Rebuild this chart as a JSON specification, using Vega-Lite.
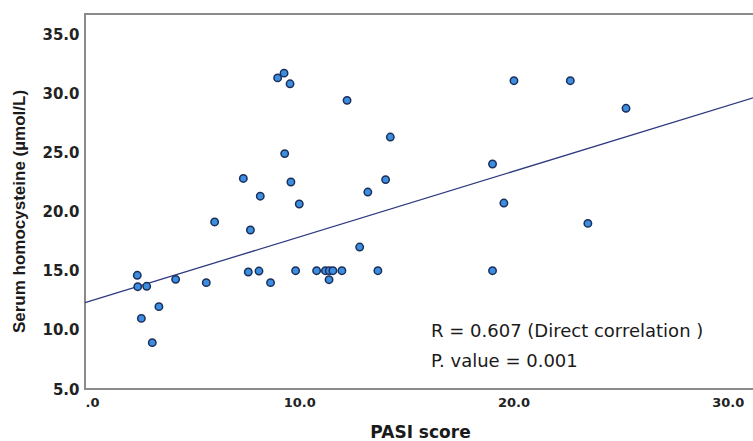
{
  "$schema": "https://vega.github.io/schema/vega-lite/v6.json",
  "width": 670,
  "height": 375,
  "autosize": "none",
  "padding": {"left": 85, "top": 14, "right": 0, "bottom": 52},
  "background": "white",
  "config": {
    "view": {"stroke": "#8a8a8a", "strokeWidth": 2},
    "font": "Liberation Sans"
  },
  "datasets": {
    "pts": [
      {"pasi": 9.29, "hcy": 31.7},
      {"pasi": 8.99, "hcy": 31.3},
      {"pasi": 9.57, "hcy": 30.8},
      {"pasi": 12.23, "hcy": 29.4},
      {"pasi": 14.25, "hcy": 26.3},
      {"pasi": 9.32, "hcy": 24.9},
      {"pasi": 7.39, "hcy": 22.8},
      {"pasi": 9.61, "hcy": 22.5},
      {"pasi": 14.03, "hcy": 22.7},
      {"pasi": 13.2, "hcy": 21.65},
      {"pasi": 8.18, "hcy": 21.3},
      {"pasi": 10.0, "hcy": 20.64},
      {"pasi": 6.05, "hcy": 19.12},
      {"pasi": 7.72, "hcy": 18.44},
      {"pasi": 12.82, "hcy": 17.0},
      {"pasi": 2.44, "hcy": 14.61},
      {"pasi": 7.62, "hcy": 14.89},
      {"pasi": 8.12, "hcy": 14.97},
      {"pasi": 9.83, "hcy": 15.0},
      {"pasi": 10.81, "hcy": 15.0},
      {"pasi": 11.22, "hcy": 15.0},
      {"pasi": 11.4, "hcy": 15.0},
      {"pasi": 11.57, "hcy": 15.0},
      {"pasi": 11.99, "hcy": 15.0},
      {"pasi": 13.67, "hcy": 15.0},
      {"pasi": 11.39, "hcy": 14.24},
      {"pasi": 4.23, "hcy": 14.27},
      {"pasi": 5.66, "hcy": 13.99},
      {"pasi": 8.66, "hcy": 13.99},
      {"pasi": 2.46, "hcy": 13.65},
      {"pasi": 2.88, "hcy": 13.68},
      {"pasi": 3.45, "hcy": 11.96},
      {"pasi": 2.63, "hcy": 10.97},
      {"pasi": 3.14, "hcy": 8.92},
      {"pasi": 20.02, "hcy": 31.06},
      {"pasi": 22.65, "hcy": 31.06},
      {"pasi": 25.25, "hcy": 28.73},
      {"pasi": 19.02, "hcy": 24.02},
      {"pasi": 19.55, "hcy": 20.72},
      {"pasi": 23.47, "hcy": 19.0},
      {"pasi": 19.02, "hcy": 15.0}
    ],
    "fit": [
      {"pasi": 0, "hcy": 12.3},
      {"pasi": 31.27, "hcy": 29.66}
    ],
    "notes": [
      {"pasi": 16.15, "hcy": 9.82, "txt": "R = 0.607 (Direct correlation )"},
      {"pasi": 16.15, "hcy": 7.28, "txt": "P. value = 0.001"}
    ]
  },
  "layer": [
    {
      "data": {"name": "fit"},
      "mark": {"type": "line", "color": "#2e3a80", "strokeWidth": 1.3},
      "encoding": {
        "x": {
          "field": "pasi", "type": "quantitative",
          "scale": {"domain": [0, 31.27], "nice": false, "zero": false},
          "axis": {
            "values": [0, 10, 20, 30],
            "labelExpr": "datum.value == 0 ? '.0' : format(datum.value, '.1f')",
            "title": "PASI score",
            "titleFont": "DejaVu Sans", "titleFontSize": 17, "titleFontWeight": "bold", "titleColor": "#1a1a1a",
            "titleY": 48, "titleBaseline": "alphabetic",
            "labelFont": "DejaVu Sans", "labelFontSize": 13, "labelFontWeight": "bold", "labelColor": "#222",
            "labelPadding": 7,
            "ticks": false, "domain": false, "grid": false
          }
        },
        "y": {
          "field": "hcy", "type": "quantitative",
          "scale": {"domain": [5, 36.7], "nice": false, "zero": false},
          "axis": {
            "values": [5, 10, 15, 20, 25, 30, 35],
            "format": ".1f",
            "title": "Serum homocysteine (µmol/L)",
            "titleFontSize": 17, "titleFontWeight": "bold", "titleColor": "#1a1a1a",
            "titleX": -57, "titleY": 197,
            "labelFont": "DejaVu Sans", "labelFontSize": 15, "labelFontWeight": "bold", "labelColor": "#222",
            "labelPadding": 6,
            "ticks": false, "domain": false, "grid": false
          }
        }
      }
    },
    {
      "data": {"name": "pts"},
      "mark": {"type": "point", "shape": "circle", "filled": true, "fill": "#3c8ee0", "stroke": "#1c2f5a", "strokeWidth": 1.5, "size": 55, "opacity": 1},
      "encoding": {
        "x": {"field": "pasi", "type": "quantitative"},
        "y": {"field": "hcy", "type": "quantitative"}
      }
    },
    {
      "data": {"name": "notes"},
      "mark": {"type": "text", "align": "left", "baseline": "middle", "font": "DejaVu Sans", "fontSize": 18, "color": "#1a1a1a"},
      "encoding": {
        "x": {"field": "pasi", "type": "quantitative"},
        "y": {"field": "hcy", "type": "quantitative"},
        "text": {"field": "txt"}
      }
    }
  ]
}
